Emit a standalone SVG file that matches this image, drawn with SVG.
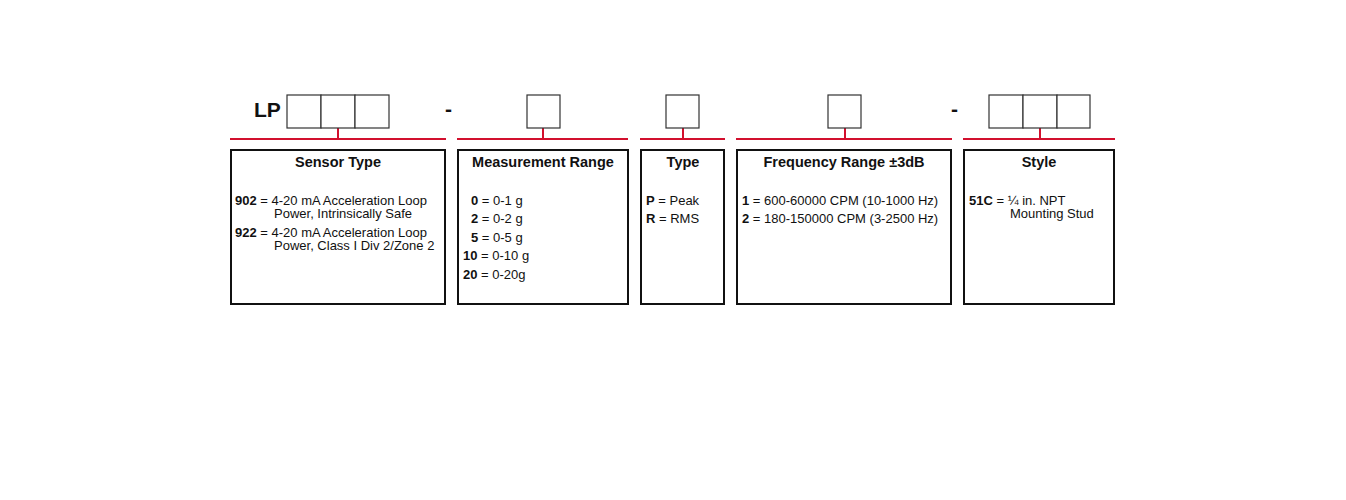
<svg xmlns="http://www.w3.org/2000/svg" width="1346" height="500" viewBox="0 0 1346 500">
<style>
.sb{fill:#fff;stroke:#333;stroke-width:1.2}
.bx{fill:#fff;stroke:#111;stroke-width:2}
.rl{stroke:#d2102e;stroke-width:2;fill:none}
text{font-family:"Liberation Sans",Arial,sans-serif;font-size:13px;fill:#111}
.t{font-size:14.5px;font-weight:bold;text-anchor:middle}
b,.b{font-weight:bold}
</style>
<rect width="1346" height="500" fill="#fff"/>
<g id="connectors">
<path class="rl" d="M230 139H446M338 128V139M457 139H628M543 128V139M640 139H725M683 128V139M736 139H952M845 128V139M963 139H1115M1040 128V139"/>
</g>
<g id="code">
<text x="254" y="117" style="font-size:21px;font-weight:bold">LP</text>
<rect class="sb" x="287" y="95" width="34" height="33"/><rect class="sb" x="321" y="95" width="34" height="33"/><rect class="sb" x="355" y="95" width="34" height="33"/>
<text x="445" y="116" style="font-size:21px;font-weight:bold">-</text>
<rect class="sb" x="527" y="95" width="33" height="33"/>
<rect class="sb" x="666" y="95" width="33" height="33"/>
<rect class="sb" x="828" y="95" width="33" height="33"/>
<text x="951" y="116" style="font-size:21px;font-weight:bold">-</text>
<rect class="sb" x="989" y="95" width="34" height="33"/><rect class="sb" x="1023" y="95" width="34" height="33"/><rect class="sb" x="1057" y="95" width="33" height="33"/>
</g>
<g id="sensor">
<rect class="bx" x="231" y="150" width="214" height="154"/>
<text class="t" x="338" y="167">Sensor Type</text>
<text x="235" y="205"><tspan class="b">902</tspan> = 4-20 mA Acceleration Loop</text>
<text x="274" y="218">Power, Intrinsically Safe</text>
<text x="235" y="237"><tspan class="b">922</tspan> = 4-20 mA Acceleration Loop</text>
<text x="274" y="250">Power, Class I Div 2/Zone 2</text>
</g>
<g id="range">
<rect class="bx" x="458" y="150" width="170" height="154"/>
<text class="t" x="543" y="167">Measurement Range</text>
<text x="471" y="205"><tspan class="b">0</tspan> = 0-1 g</text>
<text x="471" y="223"><tspan class="b">2</tspan> = 0-2 g</text>
<text x="471" y="242"><tspan class="b">5</tspan> = 0-5 g</text>
<text x="463" y="260"><tspan class="b">10</tspan> = 0-10 g</text>
<text x="463" y="279"><tspan class="b">20</tspan> = 0-20g</text>
</g>
<g id="type">
<rect class="bx" x="641" y="150" width="83" height="154"/>
<text class="t" x="683" y="167">Type</text>
<text x="646" y="205"><tspan class="b">P</tspan> = Peak</text>
<text x="646" y="223"><tspan class="b">R</tspan> = RMS</text>
</g>
<g id="freq">
<rect class="bx" x="737" y="150" width="214" height="154"/>
<text class="t" x="844" y="167">Frequency Range ±3dB</text>
<text x="742" y="205"><tspan class="b">1</tspan> = 600-60000 CPM (10-1000 Hz)</text>
<text x="742" y="223"><tspan class="b">2</tspan> = 180-150000 CPM (3-2500 Hz)</text>
</g>
<g id="style">
<rect class="bx" x="964" y="150" width="150" height="154"/>
<text class="t" x="1039" y="167">Style</text>
<text x="969" y="205"><tspan class="b">51C</tspan> = ¼ in. NPT</text>
<text x="1010" y="218">Mounting Stud</text>
</g>
</svg>
